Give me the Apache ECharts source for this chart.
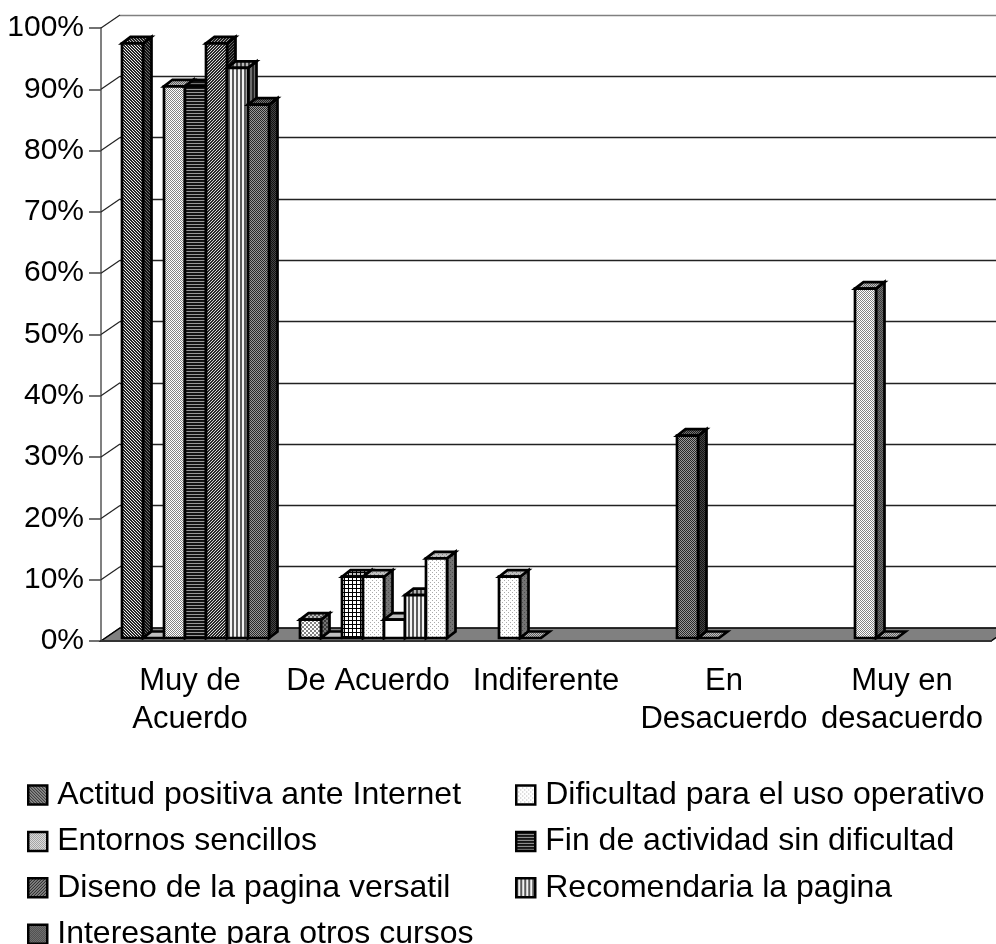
<!DOCTYPE html>
<html><head><meta charset="utf-8">
<style>html,body{margin:0;padding:0;background:#fff}#c{width:996px;height:944px}</style>
<script src="https://cdn.jsdelivr.net/npm/echarts@6/dist/echarts.min.js"></script>
</head><body><div id="c"></div>
<script>
const categories = ['Muy de\nAcuerdo','De Acuerdo','Indiferente','En\nDesacuerdo','Muy en\ndesacuerdo'];
const yTicks = [0,10,20,30,40,50,60,70,80,90,100];
const seriesNames = ['Actitud positiva ante Internet','Dificultad para el uso operativo','Entornos sencillos','Fin de actividad sin dificultad','Diseno de la pagina versatil','Recomendaria la pagina','Interesante para otros cursos'];
const actitud      = [97, 3, null, null, null];
const dificultad   = [0, 0, 10, 33, 57];
const entornos     = [90, 10, 0, 0, 0];
const fin          = [90, 10, null, null, null];
const diseno       = [97, 3, null, null, null];
const recomendaria = [93, 7, null, null, null];
const interesante  = [87, 13, null, null, null];
const allValues = [actitud, dificultad, entornos, fin, diseno, recomendaria, interesante];

// fill pattern of each bar (series x category), and of each legend swatch
const barKinds = [
  ['diagA','checkL','dotsL','dotsL','dotsL'],
  ['white','white','dotsW','dotsD','dotsL'],
  ['dotsL','grid','dotsL','dotsL','dotsL'],
  ['hstripe','dotsW','white','white','white'],
  ['diagB','white','white','white','white'],
  ['vstripe','vstripe','white','white','white'],
  ['dotsD','dotsW','white','white','white']
];
const legendKinds = ['diagA','dotsW','dotsL','hstripe','diagB','vstripe','dotsD'];

const tiles = {
  diagA:  {fg:[40], bg:.95, rows:['110','011','101']},
  diagB:  {fg:[40], bg:.85, rows:['011','110','101']},
  dotsL:  {fg:[130], bg:1,  rows:['10','01']},
  dotsW:  {fg:[170], bg:1,  rows:['1000','0000','0010','0000']},
  dotsD:  {fg:[40], bg:.6,  rows:['10','01']},
  checkL: {fg:[130], bg:1,  rows:['1100','1100','0011','0011']},
  grid:   {fg:[0], bg:1,    rows:['1111','1000','1000','1000']},
  hstripe:{fg:[20], bg:.6,  rows:['1','1','0']},
  vstripe:{fg:[90], bg:.95, rows:['1100']},
  white:  {fg:[255], bg:1,  rows:['1']}
};
function pattern(kind, shade){
  const t = tiles[kind], c = document.createElement('canvas');
  c.width = t.rows[0].length; c.height = t.rows.length;
  const g = c.getContext('2d');
  const grey = n => { const k = Math.round(n); return 'rgb('+k+','+k+','+k+')'; };
  g.fillStyle = grey(255 * t.bg * shade); g.fillRect(0,0,c.width,c.height);
  g.fillStyle = grey(t.fg[0] * shade);
  t.rows.forEach((r,y)=>[...r].forEach((b,x)=>{ if(b==='1') g.fillRect(x,y,1,1); }));
  return {image:c, repeat:'repeat'};
}
const BAR_W = 21, DX = 5.5, DY = -3, TOP_X = 8.5, TOP_Y = 6.5, WALL_X = 19, WALL_Y = 13;
const FONT = '"Liberation Sans", Arial, sans-serif', FS = 31, LEGEND_FS = 32;

function barRender(si){
  return function(params, api){
    const cat = api.value(0), v = api.value(1);
    if (v === null || isNaN(v)) return;
    const p = api.coord([cat, v]), p0 = api.coord([cat, 0]);
    const x = p[0] + (si - 3.5) * BAR_W + DX, w = BAR_W;
    const yTop = p[1] + DY, yBase = p0[1] + DY;
    const kind = barKinds[si][cat];
    const line = {stroke:'#000', lineWidth:2.7, lineJoin:'miter'};
    const kids = [];
    if (v > 0) kids.push({type:'polygon', shape:{points:[[x+w,yTop],[x+w+TOP_X,yTop-TOP_Y],[x+w+TOP_X,yBase-TOP_Y],[x+w,yBase]]},
      style:Object.assign({fill:pattern(kind,.45)},line)});
    kids.push({type:'polygon', shape:{points:[[x,yTop],[x+TOP_X,yTop-TOP_Y],[x+w+TOP_X,yTop-TOP_Y],[x+w,yTop]]},
      style:Object.assign({fill:pattern(kind,.75)},line)});
    if (v > 0) kids.push({type:'rect', shape:{x:x,y:yTop,width:w,height:yBase-yTop},
      style:Object.assign({fill:pattern(kind,1)},line)});
    return {type:'group', children:kids};
  };
}
const barSeries = seriesNames.map((name,si)=>({
  type:'custom', name, xAxisIndex:0, yAxisIndex:0, z:5+si, clip:false, silent:true,
  encode:{x:0,y:1},
  data: allValues[si].map((v,ci)=>[ci,v]),
  renderItem: barRender(si)
}));
const floorSeries = {
  type:'custom', xAxisIndex:0, yAxisIndex:0, z:3, clip:false, silent:true, encode:{x:0,y:1},
  data:[[0,0]],
  renderItem(params, api){
    const cs = params.coordSys, y = api.coord([0,0])[1], l = cs.x, r = cs.x+cs.width;
    return {type:'polygon', shape:{points:[[l,y],[l+WALL_X,y-WALL_Y],[r+WALL_X,y-WALL_Y],[r,y]]},
      style:{fill:'#808080', stroke:'#000', lineWidth:1.5}};
  }
};
const connectorSeries = {
  type:'custom', xAxisIndex:0, yAxisIndex:0, z:2, clip:false, silent:true, encode:{x:0,y:1},
  data: yTicks.map(v=>[0,v]),
  renderItem(params, api){
    const l = params.coordSys.x, y = api.coord([0,api.value(1)])[1];
    return {type:'line', shape:{x1:l,y1:y,x2:l+WALL_X,y2:y-WALL_Y}, style:{stroke:'#222', lineWidth:1.2}};
  }
};
const legendBase = {orient:'vertical', icon:'rect', itemWidth:19, itemHeight:19, itemGap:14.4, selectedMode:false,
  textStyle:{fontFamily:FONT, fontSize:LEGEND_FS, color:'#000', padding:[0,0,0,5]}, top:779, height:400, padding:0};
function legendItem(i){
  return {name:seriesNames[i], itemStyle:{color:pattern(legendKinds[i],1), borderColor:'#000', borderWidth:2.5}};
}
const chart = echarts.init(document.getElementById('c'), null, {renderer:'canvas'});
chart.setOption({
  animation:false, backgroundColor:'#fff',
  grid:[
    {left:101, top:28, width:890, height:613},
    {left:120, top:15, width:890, height:613}
  ],
  xAxis:[
    {type:'category', gridIndex:0, data:categories,
     axisLine:{lineStyle:{color:'#333', width:2}},
     axisTick:{length:12, alignWithLabel:false, lineStyle:{color:'#333', width:1.5}},
     axisLabel:{interval:0, fontFamily:FONT, fontSize:FS, color:'#000', margin:21, lineHeight:38}, z:8},
    {type:'category', gridIndex:1, data:categories, show:false}
  ],
  yAxis:[
    {type:'value', gridIndex:0, min:0, max:100, interval:10,
     axisLine:{show:true, lineStyle:{color:'#808080', width:2}},
     axisTick:{show:true, length:12, lineStyle:{color:'#444', width:1.5}},
     splitLine:{show:false},
     axisLabel:{fontFamily:FONT, fontSize:30, color:'#000', margin:17, padding:[3,0,0,0], formatter:'{value}%'}},
    {type:'value', gridIndex:1, min:0, max:100, interval:10,
     axisLine:{show:false}, axisTick:{show:false}, axisLabel:{show:false},
     splitLine:{show:true, lineStyle:{color:['#222','#222','#222','#222','#222','#222','#222','#222','#222','#222','#808080'], width:1.4}}}
  ],
  legend:[
    Object.assign({}, legendBase, {left:27, data:[0,2,4,6].map(legendItem)}),
    Object.assign({}, legendBase, {left:515, data:[1,3,5].map(legendItem)})
  ],
  series:[connectorSeries, floorSeries].concat(barSeries)
});
</script></body></html>
